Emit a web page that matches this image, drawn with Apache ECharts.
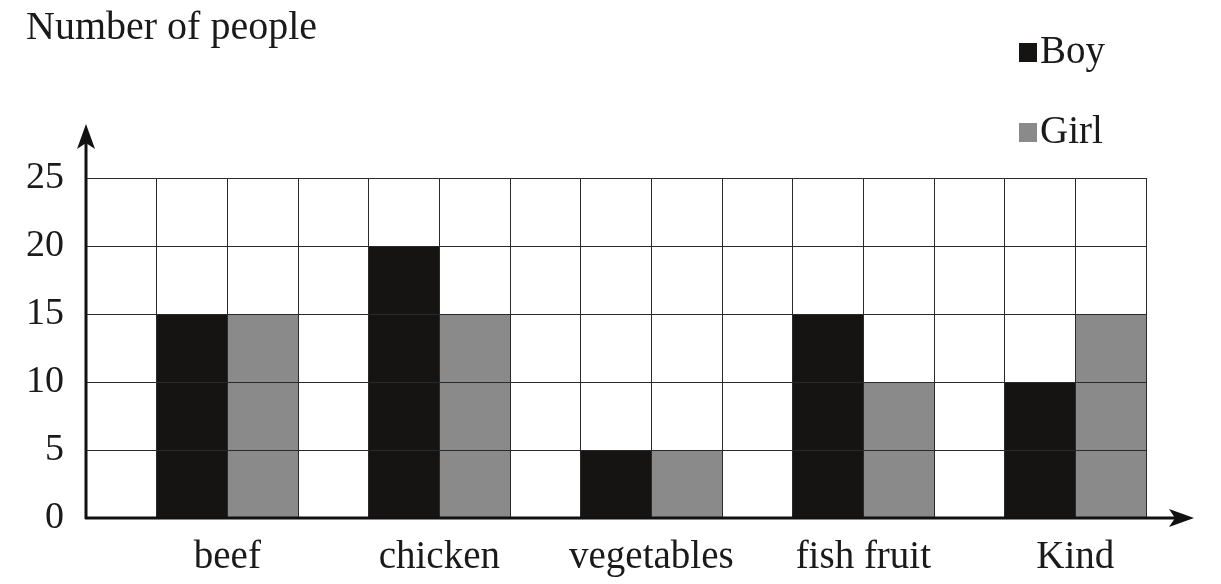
<!DOCTYPE html>
<html>
<head>
<meta charset="utf-8">
<script src="https://cdn.jsdelivr.net/npm/echarts@6/dist/echarts.min.js"></script>
<style>html,body{margin:0;padding:0;background:#fff;}#c{width:1221px;height:584px;}</style>
</head>
<body>
<div id="c"></div>
<script>
// ---- data ----
const categories = ['beef', 'chicken', 'vegetables', 'fish fruit', 'Kind'];
const boy = [15, 20, 5, 15, 10];
const girl = [15, 15, 5, 10, 15];
const yTicks = [0, 5, 10, 15, 20, 25];
const seriesNames = ['Boy', 'Girl'];
const yTitle = 'Number of people';

// ---- layout (pixels) ----
const L = 86, T = 178, R = 1146, B = 518;
const FONT = "'Liberation Serif', 'Times New Roman', serif";
const SLOTS = categories.length * 3; // 15 grid columns: gap, boy, girl per category

// build slot arrays: each category occupies 3 columns (empty, boy, girl)
const slots = Array.from({length: SLOTS}, (_, i) => String(i));
const boySlots = slots.map((_, i) => (i % 3 === 1) ? boy[(i - 1) / 3] : null);
const girlSlots = slots.map((_, i) => (i % 3 === 2) ? girl[(i - 2) / 3] : null);

const chart = echarts.init(document.getElementById('c'), null, {renderer: 'canvas'});
const gridLine = {show: true, lineStyle: {color: '#2a2a2a', width: 1, type: 'solid'}};

chart.setOption({
  animation: false,
  backgroundColor: '#ffffff',
  title: {
    text: yTitle, left: 26, top: 8, padding: 0,
    textStyle: {fontFamily: FONT, fontSize: 40, fontWeight: 'normal', color: '#1a1a1a'}
  },
  legend: {
    orient: 'vertical', left: 1019, top: 33, padding: 0,
    itemWidth: 18, itemHeight: 19, itemGap: 41,
    icon: 'rect',
    data: seriesNames,
    textStyle: {fontFamily: FONT, fontSize: 39, color: '#1a1a1a', padding: [0, 0, 0, -2]}
  },
  grid: {left: L, top: T, width: R - L, height: B - T, containLabel: false},
  xAxis: [
    {
      type: 'category', data: slots, boundaryGap: true,
      axisLine: {show: false}, axisTick: {show: false}, axisLabel: {show: false},
      splitLine: Object.assign({interval: 0}, gridLine)
    },
    {
      type: 'value', min: 0, max: SLOTS, interval: 1, position: 'bottom',
      axisLine: {show: false}, axisTick: {show: false}, splitLine: {show: false},
      axisLabel: {
        show: true, margin: 20, fontFamily: FONT, fontSize: 39, color: '#1a1a1a',
        formatter: v => ((v - 2) % 3 === 0 && v >= 2) ? categories[(v - 2) / 3] : ''
      }
    }
  ],
  yAxis: {
    type: 'value', min: yTicks[0], max: yTicks[yTicks.length - 1], interval: yTicks[1] - yTicks[0],
    axisLine: {show: false}, axisTick: {show: false},
    axisLabel: {margin: 22, fontFamily: FONT, fontSize: 38, color: '#1a1a1a', padding: [0, 0, 4, 0]},
    splitLine: gridLine
  },
  series: [
    {name: seriesNames[0], type: 'bar', xAxisIndex: 0, data: boySlots, barWidth: '100%', barGap: '-100%',
     itemStyle: {color: '#161313'}, z: -1},
    {name: seriesNames[1], type: 'bar', xAxisIndex: 0, data: girlSlots, barWidth: '100%', barGap: '-100%',
     itemStyle: {color: '#8a8a8a'}, z: -1}
  ],
  graphic: [
    {type: 'line', shape: {x1: L, y1: B + 1, x2: L, y2: 140}, style: {stroke: '#111', lineWidth: 3}, z: 100},
    {type: 'polygon', shape: {points: [[L, 124], [L - 9, 149], [L, 143], [L + 9, 149]]}, style: {fill: '#111'}, z: 100},
    {type: 'line', shape: {x1: L - 1, y1: B, x2: 1178, y2: B}, style: {stroke: '#111', lineWidth: 3}, z: 100},
    {type: 'polygon', shape: {points: [[1194, B], [1169, B - 9], [1175, B], [1169, B + 9]]}, style: {fill: '#111'}, z: 100}
  ]
});
</script>
</body>
</html>
